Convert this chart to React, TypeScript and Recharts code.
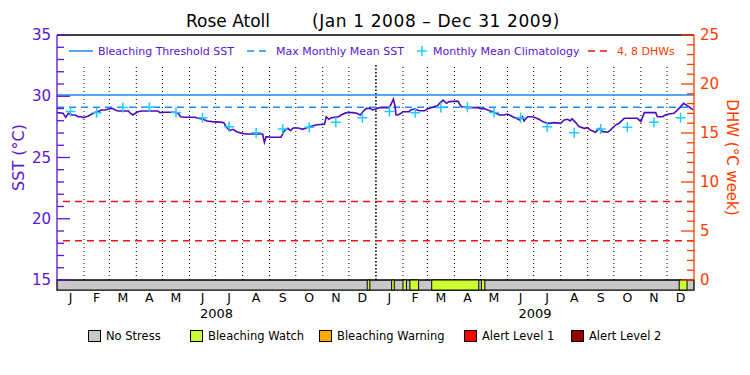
import {
  ComposedChart,
  Line,
  Scatter,
  XAxis,
  YAxis,
  ReferenceLine,
  ReferenceArea,
} from "recharts";

const FONT = '"DejaVu Sans", sans-serif';
const PURPLE = "#5a14d2";
const SST_PURPLE = "#4c0cbc";
const ORANGE = "#ff3c00";
const BLUE = "#1e8cf0";
const CYAN = "#1ecbff";
const RED = "#f01414";

// days counted from Jan 1 2008 (= 0)
const MONTH_LETTERS = ["J", "F", "M", "A", "M", "J", "J", "A", "S", "O", "N", "D"];
const DAYS_2008 = [31, 29, 31, 30, 31, 30, 31, 31, 30, 31, 30, 31];
const DAYS_2009 = [31, 28, 31, 30, 31, 30, 31, 31, 30, 31, 30, 31];
const YEAR_LABELS = ["2008", "2009"];

const SST_TICKS = [15, 16, 17, 18, 19, 20, 21, 22, 23, 24, 25, 26, 27, 28, 29, 30, 31, 32, 33, 34, 35];
const DHW_TICKS = [0, 1, 2, 3, 4, 5, 6, 7, 8, 9, 10, 11, 12, 13, 14, 15, 16, 17, 18, 19, 20, 21, 22, 23, 24, 25];

const BLEACHING_THRESHOLD = 30.1;
const MAX_MONTHLY_MEAN = 29.1;
const DHW_LEVELS = [4, 8];

// monthly mean climatology, Jan..Dec
const CLIMATOLOGY = [28.75, 28.65, 29.08, 29.1, 28.68, 28.24, 27.52, 27.03, 27.32, 27.46, 27.87, 28.25];

const SST_DAYS = [
  0, 7, 10, 13, 17, 21, 24, 28, 30, 36, 40, 44, 47, 51, 55, 59, 63, 67, 70, 82,
  84, 87, 90, 93, 97, 116, 118, 124, 135, 139, 142, 147, 158, 162, 168, 172, 178, 190, 192, 194,
  198, 202, 206, 213, 217, 236, 237, 238, 240, 246, 257, 261, 265, 268, 271, 277, 282, 286, 292, 298,
  307, 309, 312, 315, 323, 326, 332, 340, 344, 348, 351, 355, 359, 362, 366, 370, 381, 383, 386, 388,
  389, 391, 395, 397, 404, 406, 410, 416, 422, 425, 431, 437, 439, 443, 447, 450, 460, 464, 471, 483,
  487, 490, 494, 500, 504, 508, 513, 517, 523, 527, 531, 534, 536, 540, 545, 549, 553, 559, 565, 570,
  578, 582, 586, 589, 591, 595, 599, 605, 609, 612, 618, 622, 626, 632, 635, 641, 645, 651, 666, 670,
  674, 687, 689, 695, 698, 702, 708, 714, 719, 725, 730,
];
const SST_VALUES = [
  28.66, 28.61, 28.28, 28.61, 28.47, 28.47, 28.33, 28.33, 28.25, 28.39, 28.55, 28.69, 28.74, 28.88, 28.88, 28.96, 29.01, 28.88, 28.8, 28.8,
  28.61, 28.47, 28.61, 28.74, 28.8, 28.8, 28.66, 28.69, 28.69, 28.61, 28.33, 28.28, 28.28, 28.2, 28.12, 27.98, 27.93, 27.87, 27.79, 27.52,
  27.2, 27.3, 27.11, 26.97, 26.92, 26.92, 26.56, 26.24, 26.7, 26.65, 26.65, 27.19, 27.38, 27.19, 27.41, 27.41, 27.3, 27.41, 27.55, 27.68,
  27.71, 28.33, 28.12, 28.25, 28.33, 28.47, 28.66, 28.66, 28.61, 28.47, 28.74, 29.01, 29.01, 28.88, 28.96, 29.07, 29.07, 29.29, 29.78, 29.15,
  28.47, 28.47, 28.61, 28.74, 28.74, 28.88, 28.96, 28.82, 28.82, 28.96, 29.1, 29.24, 29.42, 29.69, 29.42, 29.56, 29.6, 29.15, 29.07, 29.07,
  28.96, 29.01, 28.88, 28.74, 28.61, 28.47, 28.47, 28.55, 28.33, 28.2, 28.06, 28.33, 27.98, 28.33, 28.33, 28.25, 28.12, 27.87, 27.79, 27.85,
  27.79, 28.06, 28.12, 27.98, 28.17, 27.87, 27.52, 27.38, 27.44, 27.24, 27.06, 27.38, 27.11, 27.06, 27.24, 27.65, 27.79, 28.2, 28.2, 27.93,
  28.66, 28.66, 28.33, 28.33, 28.47, 28.55, 28.61, 29.01, 29.42, 29.15, 28.88,
];

// bleaching alert status periods (level index into STATUS_NAMES)
const STATUS_START = [356, 384, 397, 405, 430, 487, 714];
const STATUS_END = [359, 387, 401, 415, 484, 491, 723];
const STATUS_LEVEL = [1, 1, 1, 1, 1, 1, 1];
const STATUS_NAMES = ["No Stress", "Bleaching Watch", "Bleaching Warning", "Alert Level 1", "Alert Level 2"];
const STATUS_COLORS = ["#c8c8c8", "#ccff33", "#ffaa00", "#ff0000", "#990000"];

// status strip sits just under the 15 °C baseline
const BAR_FLOOR = 14.18;
const DOTTED_TOP = 32.55;
const TICK_GAP = 6;

const monthLengths = [...DAYS_2008, ...DAYS_2009];
const monthStarts: number[] = [];
monthLengths.reduce((acc, len) => {
  monthStarts.push(acc);
  return acc + len;
}, 0);
const monthMids = monthStarts.map((s, i) => s + monthLengths[i] / 2);
const len2008 = DAYS_2008.reduce((a, b) => a + b, 0);
const len2009 = DAYS_2009.reduce((a, b) => a + b, 0);
const totalDays = len2008 + len2009;
const yearMids = [len2008 / 2, len2008 + len2009 / 2];

const sstData = SST_DAYS.map((day, i) => ({ day, sst: SST_VALUES[i] }));
const climData = monthMids.map((day, i) => ({ day, sst: CLIMATOLOGY[i % 12] }));

function LeftTick(props: any) {
  const { x, y, payload } = props;
  const v = payload.value as number;
  const major = v % 5 === 0;
  const ax = x + TICK_GAP;
  return (
    <g>
      <line x1={ax} x2={ax + (major ? 13 : 7)} y1={y} y2={y} stroke={PURPLE} strokeWidth={1.3} />
      {major && (
        <text x={x} y={y} dy={5} textAnchor="end" fill={PURPLE} fontSize={15} fontFamily={FONT}>
          {v}
        </text>
      )}
    </g>
  );
}

function RightTick(props: any) {
  const { x, y, payload } = props;
  const v = payload.value as number;
  const major = v % 5 === 0;
  const ax = x - TICK_GAP;
  return (
    <g>
      <line x1={ax} x2={ax - (major ? 13 : 7)} y1={y} y2={y} stroke={ORANGE} strokeWidth={1.3} />
      {major && (
        <text x={x} y={y} dy={5} textAnchor="start" fill={ORANGE} fontSize={15} fontFamily={FONT}>
          {v}
        </text>
      )}
    </g>
  );
}

function MonthTick(props: any) {
  const { x, y, index } = props;
  return (
    <text x={x} y={y + 18} dy={4} textAnchor="middle" fill="#000" fontSize={12.5} fontFamily={FONT}>
      {MONTH_LETTERS[index % 12]}
    </text>
  );
}

function Cross(props: any) {
  const { cx, cy } = props;
  return (
    <path
      d={`M${cx - 5},${cy}H${cx + 5}M${cx},${cy - 5}V${cy + 5}`}
      stroke={CYAN}
      strokeWidth={1.5}
      fill="none"
    />
  );
}

const legendText = { fontFamily: FONT, fontSize: 11, color: PURPLE, whiteSpace: "pre" as const };

export default function App() {
  return (
    <div style={{ position: "absolute", left: 0, top: 0, width: 750, height: 375, background: "#fff" }}>
      <ComposedChart width={750} height={375} margin={{ top: 35, right: 0, bottom: 75, left: 0 }}>
        <XAxis
          dataKey="day"
          type="number"
          domain={[0, totalDays]}
          allowDataOverflow
          ticks={monthMids}
          interval={0}
          height={20}
          axisLine={false}
          tickLine={false}
          tickSize={0}
          tickMargin={0}
          tick={<MonthTick />}
        />
        <YAxis
          yAxisId="sst"
          domain={[15, 35]}
          allowDataOverflow
          ticks={SST_TICKS}
          interval={0}
          width={57}
          tickSize={0}
          tickMargin={TICK_GAP}
          tickLine={false}
          axisLine={{ stroke: PURPLE, strokeWidth: 1.3 }}
          tick={<LeftTick />}
          label={{
            value: "SST (°C)",
            angle: -90,
            position: "insideLeft",
            offset: 18,
            style: { textAnchor: "middle", fill: PURPLE, fontSize: 16, fontFamily: FONT },
          }}
        />
        <YAxis
          yAxisId="dhw"
          orientation="right"
          domain={[0, 25]}
          allowDataOverflow
          ticks={DHW_TICKS}
          interval={0}
          width={56}
          tickSize={0}
          tickMargin={TICK_GAP}
          tickLine={false}
          axisLine={{ stroke: ORANGE, strokeWidth: 1.3 }}
          tick={<RightTick />}
          label={{
            value: "DHW (°C week)",
            angle: 90,
            position: "insideRight",
            offset: 18,
            style: { textAnchor: "middle", fill: ORANGE, fontSize: 15, fontFamily: FONT },
          }}
        />

        {/* status strip */}
        <ReferenceArea
          yAxisId="sst"
          x1={0}
          x2={totalDays}
          y1={BAR_FLOOR}
          y2={15}
          ifOverflow="visible"
          fill={STATUS_COLORS[0]}
          fillOpacity={1}
          stroke="#000"
          strokeWidth={1.3}
        />
        {STATUS_START.map((s, i) => (
          <ReferenceArea
            key={"st" + i}
            yAxisId="sst"
            x1={s}
            x2={STATUS_END[i]}
            y1={BAR_FLOOR}
            y2={15}
            ifOverflow="visible"
            fill={STATUS_COLORS[STATUS_LEVEL[i]]}
            fillOpacity={1}
            stroke="#000"
            strokeWidth={1}
          />
        ))}

        {/* month separators */}
        {monthStarts.slice(1).map((d) => (
          <ReferenceLine
            key={"m" + d}
            yAxisId="sst"
            segment={[
              { x: d, y: 15 },
              { x: d, y: DOTTED_TOP },
            ]}
            stroke="#000"
            strokeWidth={d === len2008 ? 1.6 : 1}
            strokeDasharray={d === len2008 ? "1.5 2" : "1 3"}
          />
        ))}

        {/* year captions under the month letters */}
        {yearMids.map((d, i) => (
          <ReferenceLine
            key={"y" + i}
            yAxisId="sst"
            x={d}
            stroke="none"
            label={{
              value: YEAR_LABELS[i],
              position: "bottom",
              offset: 29,
              style: { fill: "#000", fontSize: 13, fontFamily: FONT },
            }}
          />
        ))}

        <ReferenceLine yAxisId="sst" y={35} stroke="#000" strokeWidth={1.5} />
        <ReferenceLine yAxisId="sst" y={BLEACHING_THRESHOLD} stroke={BLUE} strokeWidth={1.5} />
        <ReferenceLine yAxisId="sst" y={MAX_MONTHLY_MEAN} stroke={BLUE} strokeWidth={1.5} strokeDasharray="7 5" />
        {DHW_LEVELS.map((v) => (
          <ReferenceLine key={"dhw" + v} yAxisId="dhw" y={v} stroke={RED} strokeWidth={1.5} strokeDasharray="7 5" />
        ))}

        <Line
          yAxisId="sst"
          data={sstData}
          dataKey="sst"
          type="linear"
          stroke={SST_PURPLE}
          strokeWidth={1.6}
          dot={false}
          isAnimationActive={false}
        />
        <Scatter
          yAxisId="sst"
          data={climData}
          dataKey="sst"
          shape={<Cross />}
          isAnimationActive={false}
        />
      </ComposedChart>

      {/* title */}
      <div style={{ position: "absolute", top: 11, left: 186, fontFamily: FONT, fontSize: 17, color: "#000", whiteSpace: "pre" }}>
        Rose Atoll
      </div>
      <div style={{ position: "absolute", top: 11, left: 312, fontFamily: FONT, fontSize: 17, letterSpacing: 0.6, color: "#000", whiteSpace: "pre" }}>
        (Jan 1 2008 – Dec 31 2009)
      </div>

      {/* top legend */}
      <div style={{ position: "absolute", top: 44, left: 69, display: "flex", alignItems: "center", height: 14 }}>
        <svg width={24} height={14}>
          <line x1={0} x2={24} y1={7} y2={7} stroke={BLUE} strokeWidth={1.5} />
        </svg>
        <span style={{ ...legendText, marginLeft: 5 }}>Bleaching Threshold SST</span>
      </div>
      <div style={{ position: "absolute", top: 44, left: 247, display: "flex", alignItems: "center", height: 14 }}>
        <svg width={24} height={14}>
          <line x1={0} x2={24} y1={7} y2={7} stroke={BLUE} strokeWidth={1.5} strokeDasharray="7 5" />
        </svg>
        <span style={{ ...legendText, marginLeft: 5 }}>Max Monthly Mean SST</span>
      </div>
      <div style={{ position: "absolute", top: 44, left: 416, display: "flex", alignItems: "center", height: 14 }}>
        <svg width={12} height={14}>
          <path d="M1,7H11M6,2V12" stroke={CYAN} strokeWidth={1.5} fill="none" />
        </svg>
        <span style={{ ...legendText, marginLeft: 5 }}>Monthly Mean Climatology</span>
      </div>
      <div style={{ position: "absolute", top: 44, left: 588, display: "flex", alignItems: "center", height: 14 }}>
        <svg width={24} height={14}>
          <line x1={0} x2={24} y1={7} y2={7} stroke={RED} strokeWidth={1.5} strokeDasharray="7 5" />
        </svg>
        <span style={{ ...legendText, marginLeft: 5, color: ORANGE }}>4, 8 DHWs</span>
      </div>

      {/* status legend */}
      {STATUS_NAMES.map((name, i) => (
        <div
          key={name}
          style={{
            position: "absolute",
            top: 329,
            left: [88, 190, 319, 464, 571][i],
            display: "flex",
            alignItems: "center",
            height: 14,
          }}
        >
          <div
            style={{
              width: 13,
              height: 12,
              boxSizing: "border-box",
              border: "1px solid #000",
              background: STATUS_COLORS[i],
            }}
          />
          <span style={{ fontFamily: FONT, fontSize: 11.5, color: "#000", marginLeft: 5, whiteSpace: "pre" }}>{name}</span>
        </div>
      ))}
    </div>
  );
}
